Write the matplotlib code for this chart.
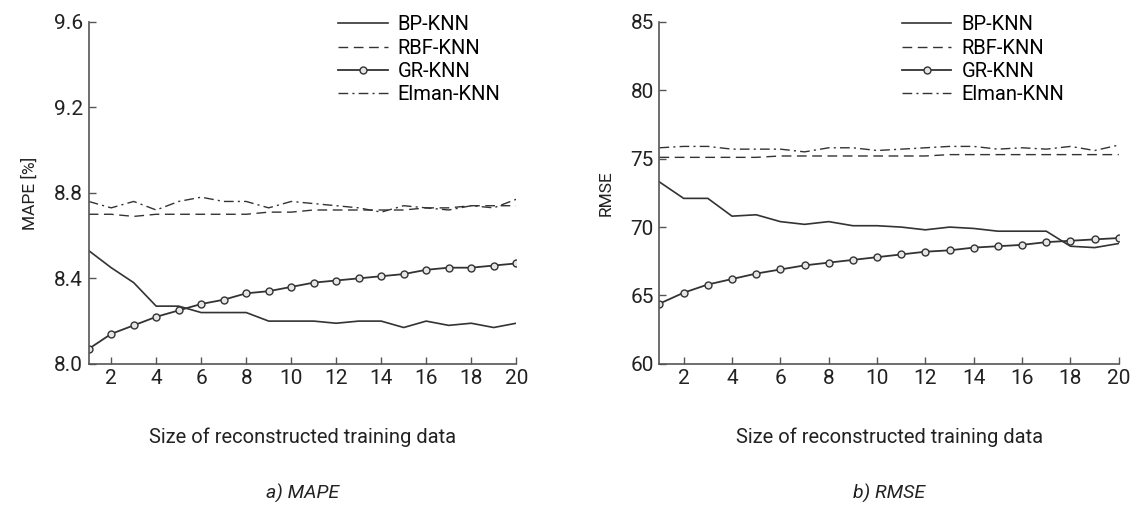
import numpy as np
import matplotlib
matplotlib.use('Agg')
import matplotlib.pyplot as plt

plt.rcParams['font.family'] = ['Roboto', 'DejaVu Sans']

# --- datos ---
k = list(range(1, 21))

mape_bp = [8.53, 8.45, 8.38, 8.27, 8.27, 8.24, 8.24, 8.24, 8.20, 8.20,
           8.20, 8.19, 8.20, 8.20, 8.17, 8.20, 8.18, 8.19, 8.17, 8.19]
mape_rbf = [8.70, 8.70, 8.69, 8.70, 8.70, 8.70, 8.70, 8.70, 8.71, 8.71,
            8.72, 8.72, 8.72, 8.72, 8.72, 8.73, 8.73, 8.74, 8.74, 8.74]
mape_gr = [8.07, 8.14, 8.18, 8.22, 8.25, 8.28, 8.30, 8.33, 8.34, 8.36,
           8.38, 8.39, 8.40, 8.41, 8.42, 8.44, 8.45, 8.45, 8.46, 8.47]
mape_elman = [8.76, 8.73, 8.76, 8.72, 8.76, 8.78, 8.76, 8.76, 8.73, 8.76,
              8.75, 8.74, 8.73, 8.71, 8.74, 8.73, 8.72, 8.74, 8.73, 8.77]

rmse_bp = [73.3, 72.1, 72.1, 70.8, 70.9, 70.4, 70.2, 70.4, 70.1, 70.1,
           70.0, 69.8, 70.0, 69.9, 69.7, 69.7, 69.7, 68.6, 68.5, 68.8]
rmse_rbf = [75.1, 75.1, 75.1, 75.1, 75.1, 75.2, 75.2, 75.2, 75.2, 75.2,
            75.2, 75.2, 75.3, 75.3, 75.3, 75.3, 75.3, 75.3, 75.3, 75.3]
rmse_gr = [64.4, 65.2, 65.8, 66.2, 66.6, 66.9, 67.2, 67.4, 67.6, 67.8,
           68.0, 68.2, 68.3, 68.5, 68.6, 68.7, 68.9, 69.0, 69.1, 69.2]
rmse_elman = [75.8, 75.9, 75.9, 75.7, 75.7, 75.7, 75.5, 75.8, 75.8, 75.6,
              75.7, 75.8, 75.9, 75.9, 75.7, 75.8, 75.7, 75.9, 75.6, 76.0]

labels = ['BP-KNN', 'RBF-KNN', 'GR-KNN', 'Elman-KNN']
x_ticks = list(range(2, 21, 2))
mape_ticks = [8.0, 8.4, 8.8, 9.2, 9.6]
rmse_ticks = [60, 65, 70, 75, 80, 85]

color = '#333333'


def dibujar(ax, bp, rbf, gr, elman, yticks, ylabel, caption, fmt, leg_x):
    ax.plot(k, bp, '-', color=color, lw=1.2, label=labels[0])
    ax.plot(k, rbf, color=color, lw=1.0, dashes=(7, 4), label=labels[1])
    ax.plot(k, gr, '-', color=color, lw=1.3, marker='o', ms=5,
            mfc='#e6e6e6', mec=color, mew=1.0, label=labels[2])
    ax.plot(k, elman, color=color, lw=1.0, dashes=(7, 3, 1.5, 3), label=labels[3])

    ax.set_xlim(1, 20)
    ax.set_ylim(yticks[0], yticks[-1])
    ax.set_xticks(x_ticks)
    ax.set_yticks(yticks)
    ax.set_yticklabels([fmt.format(v) for v in yticks])
    for s in ['top', 'right']:
        ax.spines[s].set_visible(False)
    for s in ['left', 'bottom']:
        ax.spines[s].set_color('#555555')
        ax.spines[s].set_linewidth(1.2)
    ax.tick_params(direction='in', length=5, width=1, colors='#555555',
                   labelcolor='#222222', labelsize=15, pad=4)
    ax.set_ylabel(ylabel, fontsize=12.5, color='#222222', labelpad=12)
    ax.set_xlabel('Size of reconstructed training data', fontsize=14.5,
                  color='#222222', labelpad=28)
    ax.text(0.5, -0.35, caption, transform=ax.transAxes, ha='center',
            va='top', fontsize=14, style='italic', color='#222222')
    ax.legend(loc='upper left', bbox_to_anchor=(leg_x, 1.02), frameon=False,
              fontsize=14.5, handlelength=2.45, handletextpad=0.5,
              labelspacing=0.22, borderaxespad=0, borderpad=0)


fig = plt.figure(figsize=(11.37, 5.11), dpi=100)
ax1 = fig.add_axes([0.078, 0.288, 0.376, 0.669])
ax2 = fig.add_axes([0.58, 0.288, 0.404, 0.669])

dibujar(ax1, mape_bp, mape_rbf, mape_gr, mape_elman, mape_ticks,
        'MAPE [%]', 'a) MAPE', '{:.1f}', 0.584)
dibujar(ax2, rmse_bp, rmse_rbf, rmse_gr, rmse_elman, rmse_ticks,
        'RMSE', 'b) RMSE', '{:d}', 0.528)

fig.savefig('out.png', dpi=100)
